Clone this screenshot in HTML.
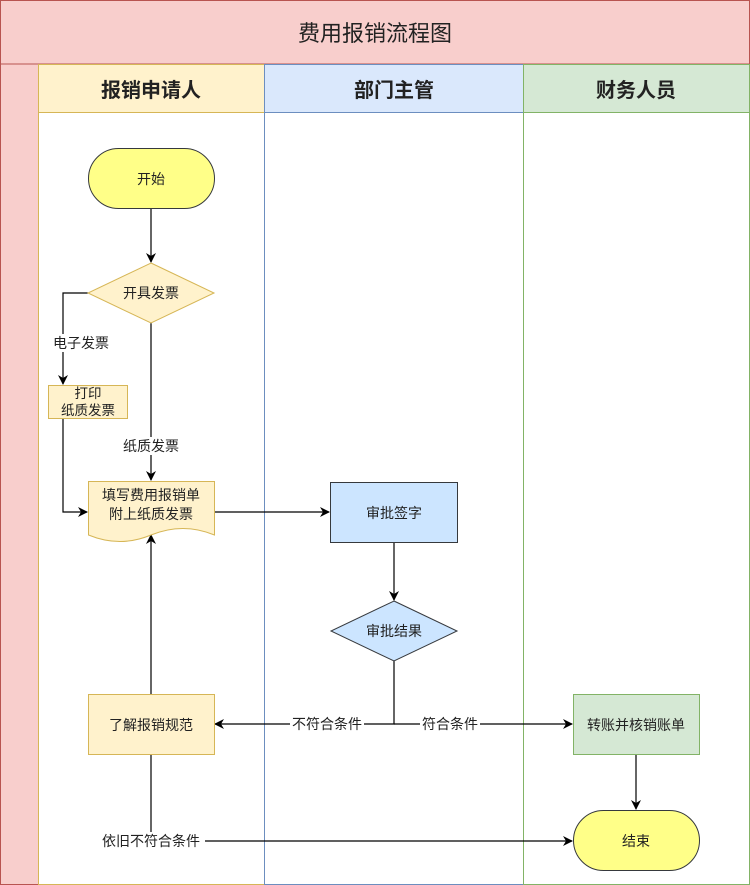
<!DOCTYPE html>
<html><head><meta charset="utf-8"><style>
html,body{margin:0;padding:0;background:#fff;}
svg{display:block;}
text{font-family:"Liberation Sans","Noto Sans CJK SC",sans-serif;fill:#222;}
</style></head><body>
<svg width="750" height="885" viewBox="0 0 750 885" xmlns="http://www.w3.org/2000/svg">
<defs>
<marker id="a" markerWidth="10" markerHeight="10" refX="9" refY="5" orient="auto" markerUnits="userSpaceOnUse">
<path d="M0,0 L10,5 L0,10 L3,5 Z" fill="#000"/>
</marker>
</defs>
<!-- pool -->
<rect x="0.5" y="0.5" width="749" height="884" fill="#f8cecc" stroke="#b85450"/>
<line x1="0" y1="64" x2="750" y2="64" stroke="#b85450"/>
<text x="375" y="41" font-size="22" text-anchor="middle">费用报销流程图</text>
<!-- lanes -->
<rect x="38.5" y="64.5" width="226" height="820" fill="#fff" stroke="#d6b656"/>
<rect x="38.5" y="64.5" width="226" height="48" fill="#fff2cc" stroke="#d6b656"/>
<rect x="264.5" y="64.5" width="259" height="820" fill="#fff" stroke="#6c8ebf"/>
<rect x="264.5" y="64.5" width="259" height="48" fill="#dae8fc" stroke="#6c8ebf"/>
<rect x="523.5" y="64.5" width="226" height="820" fill="#fff" stroke="#82b366"/>
<rect x="523.5" y="64.5" width="226" height="48" fill="#d5e8d4" stroke="#82b366"/>
<text x="151" y="97" font-size="20" font-weight="bold" text-anchor="middle">报销申请人</text>
<text x="394" y="97" font-size="20" font-weight="bold" text-anchor="middle">部门主管</text>
<text x="636" y="97" font-size="20" font-weight="bold" text-anchor="middle">财务人员</text>

<!-- edges -->
<g stroke="#000" stroke-width="1.2" fill="none">
<path d="M151,208 V262" marker-end="url(#a)"/>
<path d="M88,293 H63 V384" marker-end="url(#a)"/>
<path d="M151,323 V480" marker-end="url(#a)"/>
<path d="M63,418 V512 H87" marker-end="url(#a)"/>
<path d="M214,512 H329" marker-end="url(#a)"/>
<path d="M394,543 V600" marker-end="url(#a)"/>
<path d="M394,661 V724 H215" marker-end="url(#a)"/>
<path d="M394,724 H572" marker-end="url(#a)"/>
<path d="M151,694 V535" marker-end="url(#a)"/>
<path d="M151,754 V841 H572" marker-end="url(#a)"/>
<path d="M636,754 V809" marker-end="url(#a)"/>
</g>

<!-- nodes -->
<rect x="88.5" y="148.5" width="126" height="60" rx="30" fill="#ffff88" stroke="#36393d"/>
<text x="151" y="184" font-size="14" text-anchor="middle">开始</text>

<polygon points="151,263 214,293 151,323 88,293" fill="#fff2cc" stroke="#d6b656"/>
<text x="151" y="298" font-size="14" text-anchor="middle">开具发票</text>

<rect x="48.5" y="385.5" width="79" height="33" fill="#fff2cc" stroke="#d6b656"/>
<text x="88" y="398" font-size="13.5" text-anchor="middle">打印</text>
<text x="88" y="415" font-size="13.5" text-anchor="middle">纸质发票</text>

<path d="M88.5,481.5 H214.5 V535 Q183,522 151,535 Q120,548 88.5,535 Z" fill="#fff2cc" stroke="#d6b656"/>
<text x="151" y="500" font-size="14" text-anchor="middle">填写费用报销单</text>
<text x="151" y="519" font-size="14" text-anchor="middle">附上纸质发票</text>

<rect x="330.5" y="482.5" width="127" height="60" fill="#cce5ff" stroke="#36393d"/>
<text x="394" y="518" font-size="14" text-anchor="middle">审批签字</text>

<polygon points="394,601 457,631 394,661 331,631" fill="#cce5ff" stroke="#36393d"/>
<text x="394" y="636" font-size="14" text-anchor="middle">审批结果</text>

<rect x="88.5" y="694.5" width="126" height="60" fill="#fff2cc" stroke="#d6b656"/>
<text x="151" y="730" font-size="14" text-anchor="middle">了解报销规范</text>

<rect x="573.5" y="694.5" width="126" height="60" fill="#d5e8d4" stroke="#82b366"/>
<text x="636" y="730" font-size="14" text-anchor="middle">转账并核销账单</text>

<rect x="573.5" y="810.5" width="126" height="60" rx="30" fill="#ffff88" stroke="#36393d"/>
<text x="636" y="846" font-size="14" text-anchor="middle">结束</text>

<!-- labels -->
<rect x="49" y="334" width="64" height="18" fill="#fff"/>
<text x="81" y="348" font-size="14" text-anchor="middle">电子发票</text>
<rect x="119" y="437" width="64" height="18" fill="#fff"/>
<text x="151" y="451" font-size="14" text-anchor="middle">纸质发票</text>
<rect x="290" y="715" width="74" height="18" fill="#fff"/>
<text x="327" y="729" font-size="14" text-anchor="middle">不符合条件</text>
<rect x="420" y="715" width="60" height="18" fill="#fff"/>
<text x="450" y="729" font-size="14" text-anchor="middle">符合条件</text>
<rect x="97" y="832" width="108" height="18" fill="#fff"/>
<text x="151" y="846" font-size="14" text-anchor="middle">依旧不符合条件</text>
</svg>
</body></html>
